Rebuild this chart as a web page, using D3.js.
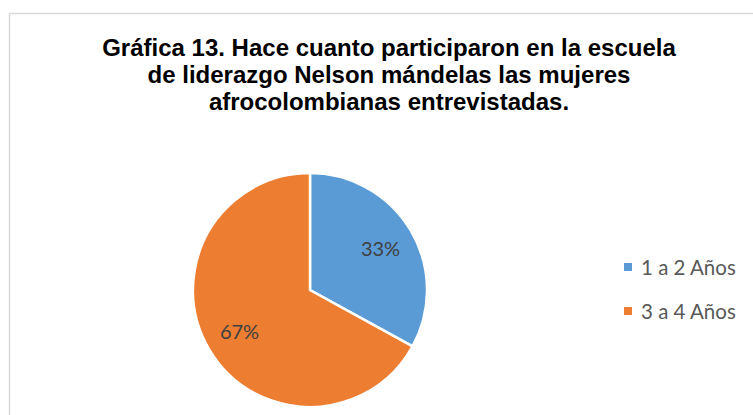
<!DOCTYPE html>
<html>
<head>
  <meta charset="UTF-8">
  <title>Gráfica 13</title>
  <style>
    body { margin: 0; background: #fff; }
  </style>
</head>
<body>
  <svg width="753" height="415"></svg>

  <script src="https://d3js.org/d3.v7.min.js"></script>
  <script>
    // Data
    const categories = ['1 a 2 Años', '3 a 4 Años'];
    const values = [33, 67];
    const colors = ['#5B9BD5', '#ED7D31'];
    const titleLines = [
      'Gráfica 13. Hace cuanto participaron en la escuela',
      'de liderazgo Nelson mándelas las mujeres',
      'afrocolombianas entrevistadas.'
    ];

    const svg = d3.select('svg');

    // chart frame (runs off the right and bottom edge)
    svg.append('rect')
      .attr('x', 9.5)
      .attr('y', 13.5)
      .attr('width', 800)
      .attr('height', 500)
      .attr('fill', 'none')
      .attr('stroke', '#d9d9d9')
      .attr('stroke-width', 1.5);

    // Title
    svg.append('g')
      .selectAll('text')
      .data(titleLines)
      .enter()
      .append('text')
      .attr('x', 389)
      .attr('y', (d, i) => 56 + i * 27)
      .attr('text-anchor', 'middle')
      .attr('font-family', 'Liberation Sans, Arial, sans-serif')
      .attr('font-weight', 'bold')
      .attr('font-size', '24px')
      .attr('fill', '#000')
      .text(d => d);

    // Pie
    const cx = 310, cy = 290, radius = 117;
    const data = categories.map((c, i) => ({ name: c, value: values[i], color: colors[i] }));

    const pie = d3.pie().sort(null).value(d => d.value);
    const arc = d3.arc().innerRadius(0).outerRadius(radius);
    const labelArc = d3.arc().innerRadius(radius * 0.7).outerRadius(radius * 0.7);

    const g = svg.append('g')
      .attr('transform', `translate(${cx}, ${cy})`);

    const arcs = pie(data);

    g.selectAll('path')
      .data(arcs)
      .enter()
      .append('path')
      .attr('d', arc)
      .attr('fill', d => d.data.color)
      .attr('stroke', '#fff')
      .attr('stroke-width', 2.5)
      .attr('stroke-linejoin', 'miter');

    g.selectAll('text')
      .data(arcs)
      .enter()
      .append('text')
      .attr('transform', d => `translate(${labelArc.centroid(d)})`)
      .attr('text-anchor', 'middle')
      .attr('dy', '0.36em')
      .attr('font-family', 'Lato, "Open Sans", sans-serif')
      .attr('font-size', '20px')
      .attr('fill', '#404040')
      .text(d => d.data.value + '%');

    // Legend
    const legend = svg.append('g')
      .selectAll('g')
      .data(data)
      .enter()
      .append('g')
      .attr('transform', (d, i) => `translate(624, ${263 + i * 44})`);

    legend.append('rect')
      .attr('width', 8)
      .attr('height', 8)
      .attr('fill', d => d.color);

    legend.append('text')
      .attr('x', 17)
      .attr('y', 12)
      .attr('font-family', 'Lato, "Open Sans", sans-serif')
      .attr('font-size', '20.5px')
      .attr('fill', '#595959')
      .text(d => d.name);
  </script>
</body>
</html>
